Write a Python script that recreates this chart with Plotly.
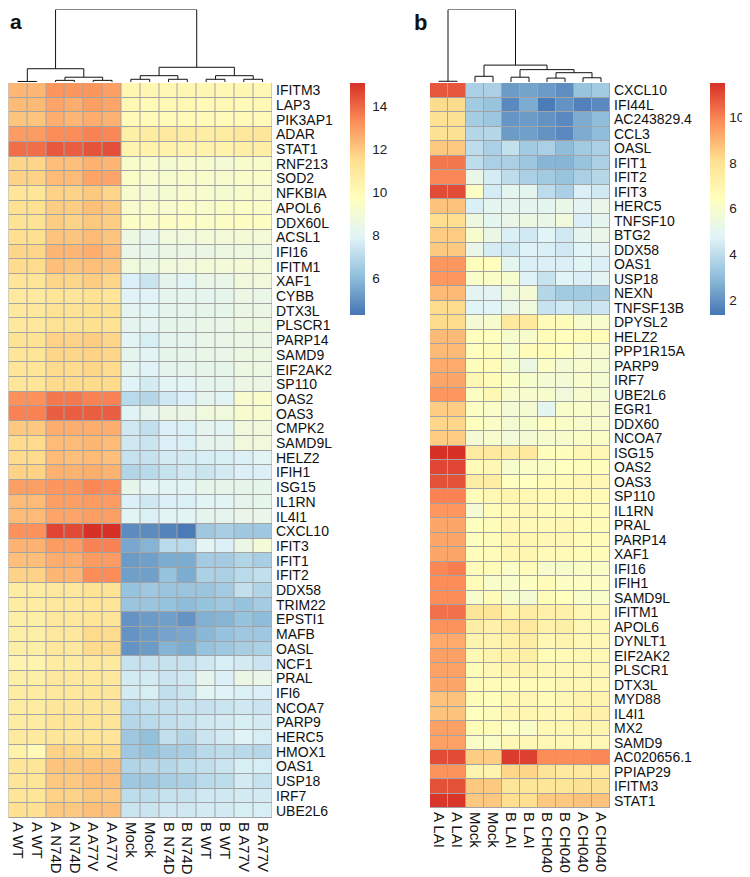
import plotly.graph_objects as go

# page body has an 8px default margin, so the figure is drawn 8px in from the window edge
OFF = 8
W, H = 750 - OFF, 877 - OFF

# ---------------- data: panel a ----------------
samples_a = ["A WT", "A WT", "A N74D", "A N74D", "A A77V", "A A77V", "Mock", "Mock",
             "B N74D", "B N74D", "B WT", "B WT", "B A77V", "B A77V"]
genes_a = ["IFITM3", "LAP3", "PIK3AP1", "ADAR", "STAT1", "RNF213", "SOD2", "NFKBIA", "APOL6",
           "DDX60L", "ACSL1", "IFI16", "IFITM1", "XAF1", "CYBB", "DTX3L", "PLSCR1", "PARP14",
           "SAMD9", "EIF2AK2", "SP110", "OAS2", "OAS3", "CMPK2", "SAMD9L", "HELZ2", "IFIH1",
           "ISG15", "IL1RN", "IL4I1", "CXCL10", "IFIT3", "IFIT1", "IFIT2", "DDX58", "TRIM22",
           "EPSTI1", "MAFB", "OASL", "NCF1", "PRAL", "IFI6", "NCOA7", "PARP9", "HERC5", "HMOX1",
           "OAS1", "USP18", "IRF7", "UBE2L6"]
values_a = [
    [12.4, 12.4, 13.1, 13.1, 13.1, 12.9, 10.2, 10.2, 10.1, 10.2, 10.2, 10.1, 10.2, 10.1],
    [12.3, 12.3, 12.8, 12.6, 12.9, 12.8, 10.1, 10.0, 10.1, 10.1, 10.0, 10.1, 10.0, 10.1],
    [12.1, 12.1, 12.6, 12.4, 12.6, 12.5, 10.0, 10.0, 9.9, 10.0, 10.0, 9.9, 10.0, 10.0],
    [13.0, 13.0, 13.3, 13.3, 13.5, 13.4, 10.6, 10.8, 10.9, 10.8, 10.7, 10.8, 11.0, 11.1],
    [13.9, 13.9, 14.3, 14.2, 14.4, 14.5, 10.3, 10.4, 10.4, 10.3, 10.4, 10.4, 10.6, 10.6],
    [11.7, 11.7, 12.2, 12.2, 12.5, 12.4, 9.3, 9.2, 9.1, 9.2, 9.2, 9.0, 9.3, 9.3],
    [11.8, 11.8, 12.3, 12.3, 12.8, 12.8, 9.4, 9.2, 9.2, 9.3, 9.3, 9.2, 9.4, 9.4],
    [11.2, 11.2, 11.8, 11.8, 12.0, 11.7, 9.2, 9.0, 9.1, 9.2, 9.2, 9.1, 9.3, 9.2],
    [11.4, 11.4, 11.9, 11.9, 12.2, 12.0, 9.2, 9.3, 9.2, 9.4, 9.3, 9.4, 9.5, 9.4],
    [11.3, 11.3, 11.9, 11.8, 12.0, 11.9, 9.5, 9.4, 9.5, 9.5, 9.4, 9.5, 9.6, 9.6],
    [11.5, 11.5, 12.1, 12.1, 12.3, 12.1, 8.6, 8.2, 8.8, 8.8, 8.9, 8.9, 9.0, 9.0],
    [11.7, 11.7, 12.4, 12.4, 12.6, 12.3, 8.4, 8.3, 8.5, 8.5, 8.5, 8.6, 8.7, 8.7],
    [11.6, 11.6, 12.2, 12.1, 12.2, 12.1, 8.8, 8.6, 8.8, 8.8, 8.9, 8.9, 9.0, 9.0],
    [11.2, 11.2, 11.7, 11.7, 11.9, 11.7, 7.8, 7.4, 8.2, 8.0, 8.4, 8.4, 8.8, 8.8],
    [10.9, 10.9, 11.2, 11.2, 11.3, 11.2, 7.9, 7.9, 8.2, 8.2, 8.2, 8.3, 8.5, 8.4],
    [11.0, 11.0, 11.3, 11.3, 11.4, 11.4, 8.1, 8.0, 8.2, 8.2, 8.3, 8.3, 8.5, 8.5],
    [11.0, 11.0, 11.3, 11.3, 11.4, 11.3, 8.2, 8.1, 8.3, 8.3, 8.4, 8.4, 8.6, 8.6],
    [11.3, 11.3, 11.8, 11.8, 11.9, 11.7, 8.0, 7.7, 8.2, 8.2, 8.4, 8.4, 8.5, 8.5],
    [11.2, 11.2, 11.7, 11.7, 11.8, 11.7, 8.2, 8.0, 8.3, 8.3, 8.4, 8.4, 8.6, 8.6],
    [11.2, 11.2, 11.6, 11.6, 11.7, 11.6, 8.1, 7.9, 8.2, 8.2, 8.3, 8.3, 8.6, 8.6],
    [11.2, 11.2, 11.6, 11.6, 11.6, 11.6, 7.9, 7.6, 8.0, 8.0, 8.2, 8.2, 8.5, 8.5],
    [13.2, 13.2, 13.7, 13.7, 13.5, 13.5, 7.0, 6.9, 7.5, 7.8, 8.2, 8.0, 9.2, 9.4],
    [13.5, 13.5, 14.2, 14.2, 14.2, 14.2, 7.9, 8.2, 8.5, 8.5, 8.8, 8.8, 9.2, 9.2],
    [12.0, 12.0, 12.6, 12.6, 12.6, 12.6, 7.5, 7.2, 7.8, 7.8, 8.2, 8.0, 8.8, 8.8],
    [11.6, 11.6, 12.3, 12.3, 12.4, 12.3, 7.5, 7.4, 7.8, 7.8, 8.2, 8.2, 8.8, 8.8],
    [11.6, 11.6, 12.3, 12.2, 12.3, 12.2, 7.3, 7.3, 7.6, 7.6, 7.7, 7.7, 7.8, 8.0],
    [11.8, 11.8, 12.5, 12.5, 12.6, 12.5, 6.8, 7.0, 7.3, 7.5, 7.4, 7.6, 7.8, 7.8],
    [12.9, 12.9, 13.1, 13.1, 13.4, 13.3, 8.3, 8.0, 8.0, 8.0, 8.3, 8.3, 8.3, 8.3],
    [12.3, 12.3, 12.9, 12.9, 13.0, 13.0, 7.8, 7.5, 7.8, 7.8, 8.0, 8.0, 8.2, 8.3],
    [12.3, 12.3, 12.8, 12.8, 12.9, 12.9, 8.0, 7.8, 8.0, 8.0, 8.2, 8.2, 8.4, 8.4],
    [13.2, 13.2, 14.7, 14.6, 15.1, 15.1, 4.8, 4.8, 4.6, 4.4, 6.4, 6.6, 6.4, 6.4],
    [12.5, 12.5, 13.0, 13.0, 13.5, 13.5, 5.5, 5.8, 7.0, 7.0, 8.0, 7.8, 8.5, 9.0],
    [12.2, 12.2, 12.6, 12.6, 13.0, 13.0, 5.2, 5.3, 5.6, 5.6, 6.5, 6.5, 6.8, 6.6],
    [11.8, 11.8, 12.4, 12.4, 13.3, 13.3, 5.3, 5.3, 6.2, 5.6, 6.7, 6.7, 7.0, 7.2],
    [10.8, 10.8, 11.0, 11.0, 11.3, 11.3, 6.2, 6.4, 6.3, 6.3, 6.3, 6.5, 7.2, 6.8],
    [10.8, 10.8, 11.0, 11.0, 11.2, 11.2, 6.3, 6.3, 6.2, 6.0, 6.2, 6.4, 6.2, 6.5],
    [10.6, 10.6, 11.0, 11.0, 11.2, 11.2, 5.0, 5.2, 5.3, 5.0, 5.7, 5.8, 6.2, 6.0],
    [10.6, 10.6, 11.0, 11.0, 11.6, 11.6, 5.0, 5.2, 5.4, 5.5, 5.9, 6.2, 6.4, 6.4],
    [10.6, 10.6, 11.0, 11.0, 11.6, 11.6, 5.0, 5.2, 5.8, 5.6, 6.2, 6.4, 6.6, 6.7],
    [10.3, 10.3, 10.8, 10.8, 10.9, 10.9, 7.3, 7.3, 7.3, 7.3, 7.5, 7.7, 7.6, 7.4],
    [10.6, 10.6, 11.0, 11.0, 11.0, 11.0, 7.6, 7.6, 7.4, 7.5, 8.2, 7.8, 8.5, 8.4],
    [10.8, 10.8, 11.0, 11.0, 11.1, 11.1, 7.6, 7.7, 7.2, 7.4, 8.0, 7.9, 7.8, 7.8],
    [10.8, 10.8, 11.1, 11.1, 11.1, 11.1, 7.0, 7.2, 7.2, 7.3, 7.3, 7.4, 7.5, 7.4],
    [10.8, 10.8, 11.2, 11.2, 11.2, 11.2, 6.9, 7.0, 7.2, 7.3, 7.5, 7.6, 7.7, 7.6],
    [10.9, 10.9, 11.1, 11.1, 11.2, 11.2, 6.4, 6.1, 7.2, 6.9, 7.4, 7.6, 7.9, 7.7],
    [10.4, 10.0, 11.8, 11.7, 11.6, 11.6, 6.4, 6.2, 6.5, 6.6, 7.0, 7.1, 7.0, 6.9],
    [11.2, 11.2, 12.1, 12.1, 12.2, 12.2, 6.8, 6.9, 6.9, 7.1, 7.2, 7.4, 7.7, 7.7],
    [11.2, 11.2, 12.0, 12.0, 12.2, 12.2, 6.4, 6.4, 6.6, 6.7, 7.0, 7.1, 7.6, 7.3],
    [11.2, 11.2, 11.8, 11.8, 12.0, 12.0, 7.1, 7.1, 7.3, 7.3, 7.5, 7.5, 7.6, 7.6],
    [11.4, 11.4, 12.0, 12.0, 12.2, 12.2, 7.4, 7.4, 7.5, 7.5, 7.6, 7.6, 7.7, 7.7],
]
# column dendrogram (left child, right child, height); leaves 0..13, new nodes 14..
merges_a = [(0, 1, 0.6), (2, 3, 1.8), (4, 5, 1.8), (15, 16, 5.3), (14, 17, 14.7),
            (6, 7, 3.0), (8, 9, 3.0), (19, 20, 7.0), (10, 11, 3.0), (12, 13, 3.0),
            (22, 23, 7.0), (21, 24, 16.3), (18, 25, 80.3)]
zrange_a = (4.27, 15.1)
ticks_a = [6, 8, 10, 12, 14]

# ---------------- data: panel b ----------------
samples_b = ["A LAI", "A LAI", "Mock", "Mock", "B LAI", "B LAI", "B CH040", "B CH040",
             "A CH040", "A CH040"]
genes_b = ["CXCL10", "IFI44L", "AC243829.4", "CCL3", "OASL", "IFIT1", "IFIT2", "IFIT3", "HERC5",
           "TNFSF10", "BTG2", "DDX58", "OAS1", "USP18", "NEXN", "TNFSF13B", "DPYSL2", "HELZ2",
           "PPP1R15A", "PARP9", "IRF7", "UBE2L6", "EGR1", "DDX60", "NCOA7", "ISG15", "OAS2",
           "OAS3", "SP110", "IL1RN", "PRAL", "PARP14", "XAF1", "IFI16", "IFIH1", "SAMD9L",
           "IFITM1", "APOL6", "DYNLT1", "EIF2AK2", "PLSCR1", "DTX3L", "MYD88", "IL4I1", "MX2",
           "SAMD9", "AC020656.1", "PPIAP29", "IFITM3", "STAT1"]
values_b = [
    [10.8, 10.8, 3.6, 3.6, 2.2, 2.4, 2.2, 1.9, 3.2, 3.4],
    [8.2, 8.2, 3.4, 3.2, 1.8, 2.6, 1.5, 2.0, 1.6, 1.8],
    [8.0, 8.0, 3.5, 3.3, 2.1, 2.2, 2.0, 1.8, 2.6, 3.0],
    [8.0, 8.0, 3.8, 3.8, 2.2, 2.3, 2.0, 1.8, 2.6, 3.0],
    [8.6, 8.6, 4.0, 3.6, 4.1, 3.4, 3.6, 3.0, 3.4, 3.6],
    [10.2, 10.2, 4.0, 3.6, 3.6, 3.3, 2.8, 2.8, 3.2, 3.6],
    [9.9, 9.9, 5.2, 4.5, 4.0, 3.6, 3.4, 3.2, 3.6, 3.8],
    [11.0, 11.0, 6.3, 4.5, 5.0, 5.0, 4.0, 3.6, 4.6, 4.4],
    [8.7, 8.7, 4.6, 5.0, 5.0, 5.0, 5.0, 5.2, 4.9, 5.2],
    [8.1, 8.1, 5.5, 5.0, 5.2, 5.4, 5.2, 5.6, 4.6, 5.0],
    [8.5, 8.5, 6.0, 5.3, 4.6, 4.4, 4.8, 4.4, 5.0, 5.2],
    [8.6, 8.6, 5.2, 4.5, 4.4, 4.7, 4.6, 4.4, 4.8, 4.9],
    [9.6, 9.6, 6.5, 6.5, 5.0, 4.6, 4.6, 4.6, 4.8, 4.6],
    [9.6, 9.6, 6.1, 6.2, 6.0, 4.7, 4.2, 4.8, 4.6, 4.9],
    [8.9, 8.9, 4.9, 4.9, 5.6, 5.8, 3.8, 3.4, 3.4, 3.5],
    [8.2, 8.2, 4.8, 4.8, 5.2, 5.6, 4.2, 4.4, 4.1, 4.3],
    [8.2, 8.2, 5.8, 6.0, 7.6, 7.6, 6.6, 6.6, 6.0, 6.0],
    [8.9, 8.9, 6.4, 6.4, 6.0, 6.0, 6.6, 6.5, 6.6, 6.6],
    [8.9, 8.9, 6.4, 6.6, 6.0, 6.6, 6.6, 6.4, 6.0, 6.0],
    [9.2, 9.2, 6.5, 6.6, 6.0, 5.4, 6.2, 5.8, 6.0, 5.9],
    [9.3, 9.3, 6.8, 6.6, 6.2, 6.0, 5.8, 5.8, 6.0, 5.9],
    [9.6, 9.6, 6.3, 6.8, 6.0, 6.0, 6.0, 5.6, 6.0, 5.9],
    [8.5, 8.5, 6.3, 6.1, 5.8, 5.9, 5.0, 6.1, 6.1, 6.0],
    [8.3, 8.3, 6.4, 6.2, 5.9, 6.0, 6.3, 6.2, 6.0, 6.0],
    [8.5, 8.5, 5.8, 6.0, 5.7, 5.8, 6.0, 6.0, 6.2, 6.2],
    [11.5, 11.5, 7.5, 7.6, 7.4, 7.6, 6.5, 6.5, 6.8, 6.8],
    [11.1, 11.1, 6.7, 6.8, 6.0, 6.2, 6.2, 6.4, 6.5, 6.5],
    [10.9, 10.9, 7.4, 7.4, 6.4, 6.4, 6.6, 6.6, 6.8, 6.8],
    [10.0, 10.0, 6.6, 6.8, 7.0, 6.8, 6.7, 6.7, 6.7, 6.7],
    [9.6, 9.6, 5.8, 6.6, 6.7, 6.8, 6.6, 6.6, 6.6, 6.6],
    [9.3, 9.3, 6.4, 6.6, 6.8, 6.7, 6.7, 6.8, 6.6, 6.6],
    [9.3, 9.3, 6.4, 6.6, 6.9, 6.9, 6.8, 6.8, 6.6, 6.6],
    [9.3, 9.3, 6.5, 6.6, 6.9, 6.9, 6.7, 6.7, 6.6, 6.6],
    [9.9, 10.1, 6.6, 6.6, 6.2, 6.6, 6.0, 6.0, 6.2, 6.2],
    [9.8, 9.8, 6.6, 6.1, 6.1, 6.3, 6.6, 6.3, 6.3, 6.3],
    [9.8, 9.8, 6.0, 6.6, 6.0, 5.8, 6.6, 6.4, 6.1, 6.1],
    [10.3, 10.3, 7.8, 7.8, 7.1, 7.4, 7.2, 7.2, 6.8, 6.8],
    [9.7, 9.7, 7.4, 7.2, 7.5, 7.6, 7.1, 7.3, 6.8, 6.8],
    [9.2, 9.2, 7.0, 7.0, 7.2, 7.4, 6.8, 7.0, 6.8, 6.8],
    [9.4, 9.4, 6.8, 7.0, 7.2, 7.3, 6.6, 6.7, 6.8, 6.8],
    [9.4, 9.4, 6.6, 6.8, 7.0, 7.0, 6.8, 6.8, 6.8, 6.8],
    [9.3, 9.3, 6.6, 6.6, 6.6, 6.6, 6.6, 6.8, 6.8, 6.8],
    [8.7, 8.7, 6.6, 6.5, 6.8, 6.8, 6.6, 6.8, 7.0, 7.0],
    [8.7, 8.7, 6.4, 6.6, 6.9, 6.9, 6.8, 6.8, 7.2, 7.2],
    [9.4, 9.4, 6.6, 6.6, 6.3, 6.1, 6.8, 6.8, 7.0, 7.0],
    [9.4, 9.4, 6.2, 6.2, 6.8, 6.8, 6.8, 6.8, 6.8, 6.8],
    [11.0, 11.0, 8.5, 8.5, 11.3, 11.2, 9.8, 9.8, 9.8, 9.9],
    [9.7, 9.7, 7.0, 7.0, 8.3, 8.3, 7.9, 7.6, 7.6, 7.6],
    [10.9, 10.9, 8.6, 8.6, 7.8, 7.8, 7.8, 7.8, 8.0, 8.0],
    [11.4, 11.4, 8.6, 8.6, 8.1, 8.1, 8.6, 8.6, 8.7, 8.7],
]
merges_b = [(0, 1, 0.8), (2, 3, 6.3), (4, 5, 5.3), (6, 7, 4.3), (8, 9, 4.7),
            (13, 14, 10.3), (12, 15, 13.7), (11, 16, 18.7), (10, 17, 80.3)]
zrange_b = (1.34, 11.5)
ticks_b = [2, 4, 6, 8, 10]

# ---------------- styling ----------------
FONT = "Liberation Sans, Arial, sans-serif"
colorscale = [[0, "#4575b4"], [1/6, "#91bfdb"], [2/6, "#e0f3f8"], [3/6, "#ffffbf"],
              [4/6, "#fee090"], [5/6, "#fc8d59"], [1, "#d73027"]]
BORDER = "#a3a3a3"
GENE_SIZE = 14
SAMPLE_SIZE = 15


def px_x(p):
    return min(max((p - OFF) / W, 0.0), 1.0)


def px_y(p):
    return min(max(1 - (p - OFF) / H, 0.0), 1.0)


def dendro_xy(n_leaves, merges):
    pos = {i: (float(i), 0.0) for i in range(n_leaves)}
    xs, ys = [], []
    for k, (a, b, h) in enumerate(merges):
        xa, ha = pos[a]
        xb, hb = pos[b]
        xs += [xa, xa, xb, xb, None]
        ys += [ha, h, h, hb, None]
        pos[n_leaves + k] = ((xa + xb) / 2, h)
    return xs, ys


fig = go.Figure()

panels = [
    dict(samples=samples_a, genes=genes_a, vals=values_a, merges=merges_a, zr=zrange_a,
         ticks=ticks_a, hx=(8.5, 272), hy=(83, 818), cbx=350, ticklen=5, ax="", dax="3"),
    dict(samples=samples_b, genes=genes_b, vals=values_b, merges=merges_b, zr=zrange_b,
         ticks=ticks_b, hx=(430, 610), hy=(83, 808), cbx=710, ticklen=2, ax="2", dax="4"),
]

layout_axes = {}
for p in panels:
    nc, nr = len(p["samples"]), len(p["genes"])
    xa = "x" + p["ax"]
    ya = "y" + p["ax"]
    fig.add_trace(go.Heatmap(
        z=p["vals"], x=list(range(nc)), y=list(range(nr)),
        colorscale=colorscale, zmin=p["zr"][0], zmax=p["zr"][1],
        xgap=1, ygap=1, xaxis=xa, yaxis=ya, hoverinfo="skip",
        colorbar=dict(x=px_x(p["cbx"]), xanchor="left", xpad=0, ypad=0,
                      y=px_y(83), yanchor="top", len=232, lenmode="pixels",
                      thickness=15, thicknessmode="pixels", outlinewidth=0,
                      tickvals=p["ticks"], ticks="outside", ticklen=p["ticklen"],
                      tickcolor="rgba(0,0,0,0)",
                      tickfont=dict(family=FONT, size=13.5, color="#222")),
    ))
    # grey cell borders
    fig.add_shape(type="rect", xref=xa, yref=ya, x0=-0.5, x1=nc - 0.5, y0=-0.5, y1=nr - 0.5,
                  fillcolor=BORDER, line=dict(color=BORDER, width=1), layer="below")
    xs, ys = dendro_xy(nc, p["merges"])
    fig.add_trace(go.Scatter(x=xs, y=ys, mode="lines", xaxis="x" + p["dax"],
                             yaxis="y" + p["dax"], line=dict(color="#111", width=1),
                             hoverinfo="skip", showlegend=False))
    dom_x = [px_x(p["hx"][0]), px_x(p["hx"][1])]
    layout_axes["xaxis" + p["ax"]] = dict(
        domain=dom_x, range=[-0.5, nc - 0.5], tickvals=list(range(nc)),
        ticktext=p["samples"], tickangle=90, ticks="", showgrid=False, zeroline=False,
        anchor=ya, ticklabelstandoff=3, automargin=False,
        tickfont=dict(family=FONT, size=SAMPLE_SIZE, color="#111"))
    layout_axes["yaxis" + p["ax"]] = dict(
        domain=[px_y(p["hy"][1]), px_y(p["hy"][0])], range=[nr - 0.5, -0.5],
        tickvals=list(range(nr)), ticktext=p["genes"], side="right", ticks="",
        showgrid=False, zeroline=False, anchor=xa, ticklabelstandoff=3, automargin=False,
        tickfont=dict(family=FONT, size=GENE_SIZE, color="#111"))
    layout_axes["xaxis" + p["dax"]] = dict(domain=dom_x, range=[-0.5, nc - 0.5], visible=False,
                                           anchor="y" + p["dax"])
    layout_axes["yaxis" + p["dax"]] = dict(domain=[px_y(82), px_y(9.5)],
                                           range=[0, 80.3], visible=False,
                                           anchor="x" + p["dax"])

fig.update_layout(**layout_axes)
fig.update_layout(
    width=W, height=H, margin=dict(l=0, r=0, t=0, b=0),
    paper_bgcolor="white", plot_bgcolor="white", showlegend=False,
    font=dict(family=FONT, color="#111"),
    annotations=[
        dict(text="<b>a</b>", x=0, y=1, xref="paper", yref="paper",
             xanchor="left", yanchor="top", showarrow=False,
             font=dict(family=FONT, size=21, color="#111")),
        dict(text="<b>b</b>", x=px_x(412), y=1, xref="paper", yref="paper",
             xanchor="left", yanchor="top", showarrow=False,
             font=dict(family=FONT, size=22, color="#111")),
    ],
)

fig.write_html("out.html")
